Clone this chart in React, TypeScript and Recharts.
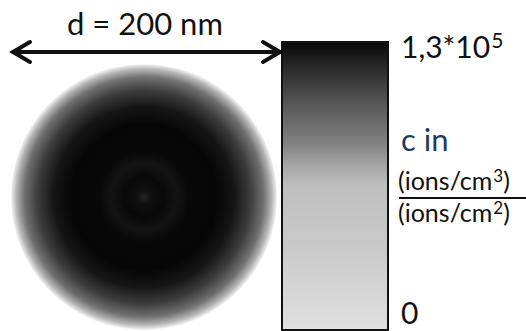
import { PieChart, Pie, Cell, BarChart, Bar, XAxis, YAxis } from 'recharts';

// particle cross-section (single full disc) and colour scale
const particle = [{ name: 'd = 200 nm', value: 1 }];
const scaleBar = [{ name: 'c', value: 130000 }];
const scaleTicks = [0, 130000];
const tickLabels: Record<number, string[]> = { 130000: ['1,3*10', '5'], 0: ['0', ''] };

const FONT = 'Lato, "Open Sans", sans-serif';

// radial shading of the particle: dark core with faint ring, light rim
const discStops = [
  ['0%', '#262626'],
  ['5%', '#101010'],
  ['15%', '#080808'],
  ['25%', '#141414'],
  ['34%', '#080808'],
  ['55%', '#060606'],
  ['68%', '#161616'],
  ['80%', '#3c3c3c'],
  ['90%', '#707070'],
  ['96%', '#b4b4b4'],
  ['100%', '#f4f4f4'],
];

const barStops = [
  ['0%', '#080808'],
  ['9%', '#2a2a2a'],
  ['21%', '#555555'],
  ['35%', '#808080'],
  ['43%', '#a6a6a6'],
  ['50%', '#bfbfbf'],
  ['72%', '#cacaca'],
  ['100%', '#e0e0e0'],
];

function ScaleTick({ x, y, payload }: any) {
  const [main, sup] = tickLabels[payload.value] ?? [String(payload.value), ''];
  const dy = payload.value > 0 ? 16 : -6;
  return (
    <text x={x} y={y + dy} fontFamily={FONT} fontSize={30} fill="#111" textAnchor="start">
      {main}
      {sup && (
        <tspan dx={1} dy={-10} fontSize={21}>
          {sup}
        </tspan>
      )}
    </text>
  );
}

export default function App() {
  return (
    <div style={{ position: 'absolute', left: 0, top: 0, width: 526, height: 331, background: '#fff' }}>
      <div style={{ position: 'absolute', left: 0, top: 0 }}>
        <PieChart width={290} height={331} margin={{ top: 0, right: 0, bottom: 0, left: 0 }}>
          <defs>
            <radialGradient id="disc" cx="50%" cy="50%" r="50%">
              {discStops.map(([o, c]) => (
                <stop key={o} offset={o} stopColor={c} />
              ))}
            </radialGradient>
          </defs>
          <Pie
            data={particle}
            dataKey="value"
            cx={144}
            cy={197}
            innerRadius={0}
            outerRadius={133}
            startAngle={90}
            endAngle={450}
            stroke="none"
            isAnimationActive={false}
          >
            {particle.map((p) => (
              <Cell key={p.name} fill="url(#disc)" />
            ))}
          </Pie>
        </PieChart>
      </div>
      <div style={{ position: 'absolute', left: 270, top: 0 }}>
        <BarChart
          width={256}
          height={331}
          data={scaleBar}
          margin={{ top: 42, right: 0, bottom: 1, left: 12 }}
          barCategoryGap={0}
        >
          <defs>
            <linearGradient id="scale" x1="0" y1="0" x2="0" y2="1">
              {barStops.map(([o, c]) => (
                <stop key={o} offset={o} stopColor={c} />
              ))}
            </linearGradient>
          </defs>
          <XAxis dataKey="name" hide />
          <YAxis
            orientation="right"
            width={138}
            domain={[0, 130000]}
            ticks={scaleTicks}
            axisLine={false}
            tickLine={false}
            tickSize={0}
            tickMargin={13}
            tick={<ScaleTick />}
            interval={0}
          />
          <Bar dataKey="value" fill="url(#scale)" stroke="#111" strokeWidth={2} isAnimationActive={false} />
        </BarChart>
      </div>
      <svg
        width={526}
        height={331}
        style={{ position: 'absolute', left: 0, top: 0, pointerEvents: 'none' }}
        fontFamily={FONT}
      >
        <text x={67} y={35} fontSize={31} fill="#111">
          d = 200 nm
        </text>
        <g stroke="#111" strokeWidth={4} strokeLinecap="round" fill="none">
          <line x1={13} y1={52} x2={280} y2={52} />
          <polyline points="30,42 13,52 30,62" />
          <polyline points="263,42 280,52 263,62" />
        </g>
        <text x={401} y={151} fontSize={31} fill="#1f3a5c">
          c in
        </text>
        <text x={398} y={190} fontSize={25} fill="#111">
          (ions/cm
          <tspan dx={1} dy={-8} fontSize={17}>
            3
          </tspan>
          <tspan dy={8}>)</tspan>
        </text>
        <line x1={399} y1={198} x2={526} y2={198} stroke="#111" strokeWidth={2} />
        <text x={398} y={222} fontSize={25} fill="#111">
          (ions/cm
          <tspan dx={1} dy={-8} fontSize={17}>
            2
          </tspan>
          <tspan dy={8}>)</tspan>
        </text>
      </svg>
    </div>
  );
}
